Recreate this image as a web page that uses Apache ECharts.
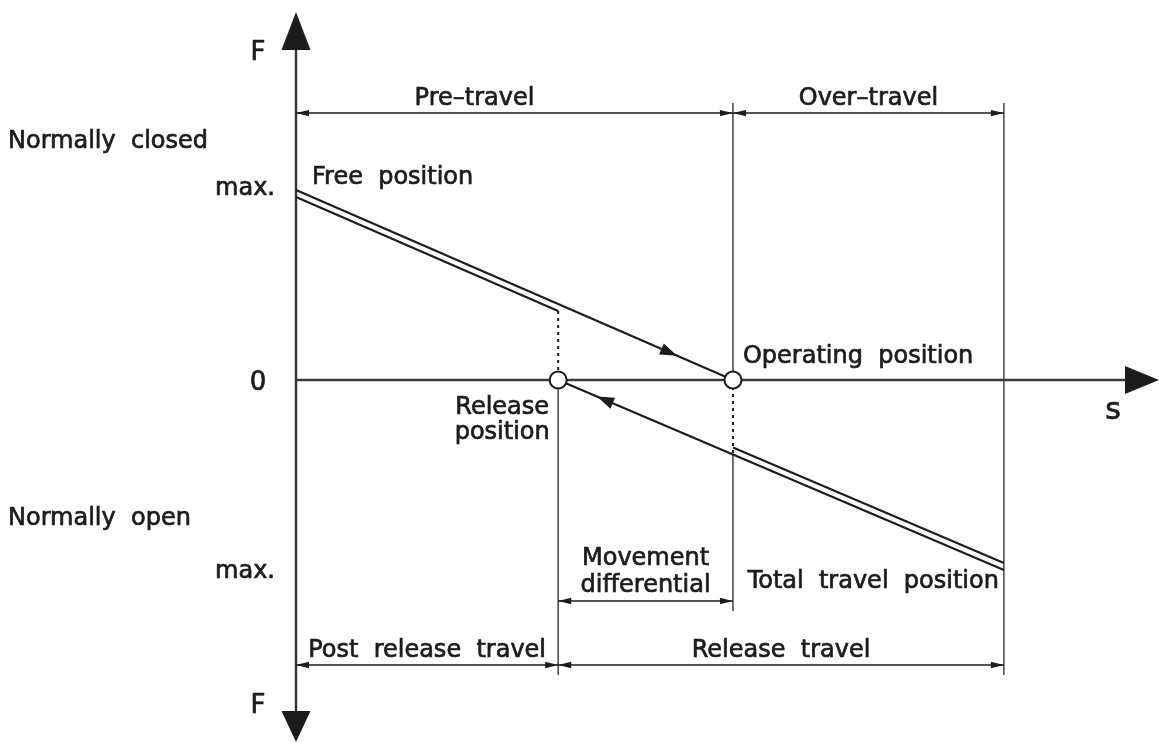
<!DOCTYPE html>
<html><head><meta charset="utf-8">
<script src="https://cdn.jsdelivr.net/npm/echarts@6.0.0/dist/echarts.min.js"></script>
<style>html,body{margin:0;padding:0;background:#fff}#c{width:1159px;height:745px}</style>
</head><body><div id="c"></div>
<script>
// ---------------- data ----------------
const sAxisRange = [0, 19.75];            // travel s (arbitrary units)
const fAxisRange = [-1.905, 1.937];       // force F (arbitrary units)
const pressS = [0, 10.0];                 // free position -> operating position
const pressF = [1.0, 0];
const releaseS = [16.2, 6.0];             // total travel position -> release position
const releaseF = [-1.0, 0];
const switchS = [6.0, 10.0];              // release position, operating position (F = 0)
const flowArrowS = [8.72, 6.89];          // direction arrows on press / release lines
const positionNames = ['Free  position', 'Release\nposition', 'Operating  position', 'Total  travel  position'];
const fLevelLabels = ['max.', '0', 'max.'];
const fLevelValues = [1.0, 0, -1.0];
const stateLabels = ['Normally  closed', 'Normally  open'];
const travelLabels = ['Pre–travel', 'Over–travel', 'Movement\ndifferential', 'Post  release  travel', 'Release  travel'];
const travelFrom = [0, 10.0, 6.0, 0, 6.0];
const travelTo = [10.0, 16.2, 10.0, 6.0, 16.2];
const travelRow = ['top', 'top', 'mid', 'bottom', 'bottom'];

// ---------------- layout ----------------
const dimRowF = { top: 1.405, mid: -1.163, bottom: -1.5 };
const INK = '#1c1c1c';
const FONT = '"DejaVu Sans", sans-serif';

function lerp(xs, ys, s) { return ys[0] + (ys[1] - ys[0]) * (s - xs[0]) / (xs[1] - xs[0]); }

function renderItem(params, api) {
  const P = (s, f) => api.coord([s, f]);
  const ch = [];
  function line(a, b, w, color, dash) {
    ch.push({ type: 'line', silent: true, shape: { x1: a[0], y1: a[1], x2: b[0], y2: b[1] },
      style: { stroke: color || INK, lineWidth: w, lineDash: dash || null } });
  }
  function head(tip, from, len, hw, color) {
    const dx = tip[0] - from[0], dy = tip[1] - from[1], L = Math.hypot(dx, dy);
    const ux = dx / L, uy = dy / L, bx = tip[0] - ux * len, by = tip[1] - uy * len;
    ch.push({ type: 'polygon', silent: true,
      shape: { points: [tip, [bx - uy * hw, by + ux * hw], [bx + uy * hw, by - ux * hw]] },
      style: { fill: color || INK } });
  }
  function text(str, p, dx, dy, align, size, lh) {
    ch.push({ type: 'text', silent: true, x: p[0] + dx, y: p[1] + dy,
      style: { text: str, fill: INK, stroke: INK, lineWidth: 0.7, font: (size || 24) + 'px ' + FONT,
        align: align || 'center', verticalAlign: 'middle', lineHeight: lh || size || 24 } });
  }
  const off = (p, dx, dy) => [p[0] + dx, p[1] + dy];
  const [sMin, sMax] = sAxisRange, [fMin, fMax] = fAxisRange;

  // axes
  const yTop = P(0, fMax), yBot = P(0, fMin), o = P(0, 0), xEnd = P(sMax, 0);
  line(off(yTop, 0, 30), off(yBot, 0, -25), 2.5, '#3a3a3a');
  head(yTop, yBot, 38, 14.5);
  head(yBot, yTop, 31, 14.5);
  line(o, off(xEnd, -25, 0), 2.5, '#3a3a3a');
  head(xEnd, o, 34, 14);

  const fPress = s => lerp(pressS, pressF, s);
  const fRel = s => lerp(releaseS, releaseF, s);
  const relS = switchS[0], opS = switchS[1];

  // extension lines
  const yTopDim = P(0, dimRowF.top)[1], yMidDim = P(0, dimRowF.mid)[1], yBotDim = P(0, dimRowF.bottom)[1];
  const ext = '#444';
  line([P(opS, 0)[0], yTopDim - 10], P(opS, 0), 1.5, ext);
  line(P(opS, fRel(opS)), [P(opS, 0)[0], yMidDim + 10], 1.5, ext);
  line([P(releaseS[0], 0)[0], yTopDim - 10], [P(releaseS[0], 0)[0], yBotDim + 10], 1.5, ext);
  line(P(relS, 0), [P(relS, 0)[0], yBotDim + 10], 1.5, ext);

  // dotted connectors
  line(off(P(relS, fPress(relS)), 0, 7), P(relS, 0), 2, INK, [3, 4]);
  line(P(opS, 0), P(opS, fRel(opS)), 2, INK, [3, 4]);

  // press line (free -> operating), double between free and release positions
  line(P(pressS[0], pressF[0]), P(pressS[1], pressF[1]), 2.2);
  line(off(P(pressS[0], fPress(pressS[0])), 0, 7), off(P(relS, fPress(relS)), 0, 7), 2.2);
  // release line (total travel -> release), double between operating and total travel
  line(P(releaseS[0], releaseF[0]), P(releaseS[1], releaseF[1]), 2.2);
  line(off(P(opS, fRel(opS)), 0, -7), off(P(releaseS[0], releaseF[0]), 0, -7), 2.2);

  // flow arrows
  head(P(flowArrowS[0], fPress(flowArrowS[0])), P(pressS[0], pressF[0]), 17, 6);
  head(P(flowArrowS[1], fRel(flowArrowS[1])), P(releaseS[0], releaseF[0]), 17, 6);

  // dimension lines
  for (let i = 0; i < travelLabels.length; i++) {
    const f = dimRowF[travelRow[i]];
    const a = P(travelFrom[i], f), b = P(travelTo[i], f);
    line(a, b, 1.5);
    head(a, b, 13, 3.2);
    head(b, a, 13, 3.2);
    const mid = [(a[0] + b[0]) / 2, a[1]];
    if (travelLabels[i].indexOf('\n') >= 0) text(travelLabels[i], mid, 0, -29, 'center', 24, 27);
    else text(travelLabels[i], mid, i === 0 ? -40 : 0, -14, 'center', 24);
  }

  // switching point circles
  switchS.forEach(s => {
    const c = P(s, 0);
    ch.push({ type: 'circle', silent: true, shape: { cx: c[0], cy: c[1], r: 8.5 },
      style: { fill: '#fff', stroke: INK, lineWidth: 2 } });
  });

  // axis texts
  text('F', yTop, -38, 41, 'center', 26);
  text('F', yBot, -38, -36, 'center', 26);
  text('s', xEnd, -46, 31, 'center', 30);
  text(fLevelLabels[0], P(0, fLevelValues[0]), -21, -1, 'right', 24);
  text(fLevelLabels[1], P(0, fLevelValues[1]), -38, 3, 'center', 26);
  text(fLevelLabels[2], P(0, fLevelValues[2]), -21, 2, 'right', 24);
  text(stateLabels[0], P(0, fLevelValues[0]), -288, -48, 'left', 24);
  text(stateLabels[1], P(0, fLevelValues[2]), -288, -51, 'left', 24);

  // position texts
  text(positionNames[0], P(pressS[0], pressF[0]), 16, -12, 'left', 24);
  text(positionNames[1], P(relS, 0), -56, 40, 'center', 24, 25);
  text(positionNames[2], P(opS, 0), 10, -23, 'left', 24);
  text(positionNames[3], P(releaseS[0], releaseF[0]), -5, 12, 'right', 24);

  return { type: 'group', children: ch };
}

const chart = echarts.init(document.getElementById('c'), null, { renderer: 'canvas' });
chart.setOption({
  animation: false,
  backgroundColor: '#fff',
  grid: { left: 296, right: 0, top: 12, bottom: 3 },
  xAxis: { type: 'value', min: sAxisRange[0], max: sAxisRange[1], show: false },
  yAxis: { type: 'value', min: fAxisRange[0], max: fAxisRange[1], show: false },
  series: [{ type: 'custom', renderItem: renderItem, data: [[0, 0]], clip: false, silent: true }]
});
</script></body></html>
